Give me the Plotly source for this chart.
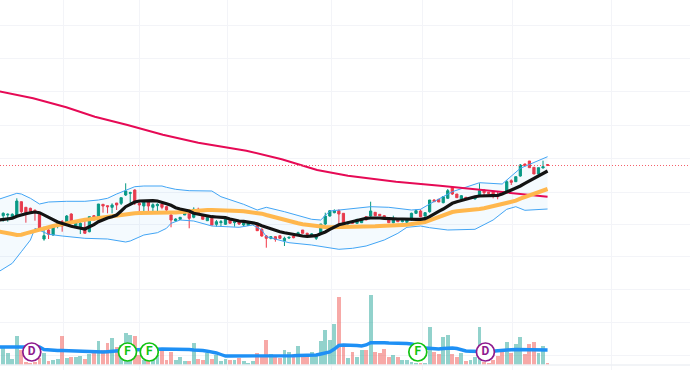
import plotly.graph_objects as go

opens = [154.3,155.0,152.7,153.3,168.3,162.7,161.7,159.7,156.7,131,140,135,145,148.3,145,156,144,142.7,142.7,138.3,154.3,150,165.7,164.3,162.7,167,166.7,175,176.7,180,166.7,164,168.3,162.7,164.3,166,163.3,155,149.3,150.7,155,156.7,
 152.7,160.7,154,149.3,151.7,145.7,147.3,145.7,150,147.3,148.3,145,144.7,146.7,145,140.7,134,131.7,133.3,134.3,129.3,132,134,135,140,136.7,135,131.7,136.7,146,154,157.3,159.3,156.7,146.7,148.3,146.7,147.3,
 153.3,154,157.7,155.7,154.3,150.7,147.3,150,148.3,147.7,151.7,156.7,159,154,158.3,170,170.7,167.3,171.7,182.7,176,171,172.7,171.7,171,175,180,177.7,178.3,174.7,178.3,179,189.3,188.3,194,206,209,202.7,196,202,205.5]
highs = [157.7,156.7,156.7,171.7,168.3,162.7,162.3,160.7,156.7,143.3,143.3,144,149.3,150,155,156.7,150,150,150,153.3,155,166,165.7,164.3,166.7,167,172.3,186.7,178.3,180.7,168.3,168.3,168.3,166.7,166.7,166.7,164,156.7,151.7,152.7,157.3,157.3,
 162.7,162.3,154,155,152,150,150,151.7,150.7,150,148.3,148.3,148.3,148.3,145.7,141.7,135,134,134,134.7,133.3,133.3,135,138.3,140,137.3,136.7,134,146,157.3,160,160.7,160.7,156.7,148.3,149,151,151.3,
 153.3,168.3,157.7,155.7,155,151,154.3,151.7,150,152,157.3,160.7,160.7,158,170,170.7,170.7,174,181,183.3,176,175,173,173,172.7,186.7,180.7,178,178.3,178.3,179,190,190.7,193.3,206,206.3,209,202.7,202.3,209.3,205.5]
lows = [148.3,148.3,151.7,153.3,156.7,147.3,158,149.3,140.7,129.3,131,134.3,141.7,138.3,145,146.7,143.3,136,136.7,137.7,150,150,157.3,156.7,156.7,160,165,174,166.7,165,158.3,158.3,156.7,159,158.3,160.7,158.3,142.7,148.3,150,155,141.7,
 151.7,156.7,150.7,149.3,145,143.3,143.3,145,146.7,143.3,145,144,144,145.7,139.3,133.3,122.3,130.7,128.3,131,124,131,131.7,134.3,136.7,135,134,130,135,145,153.3,156.7,146,147,145,146.3,146.7,147,
 150,153.3,154,154,152,147.3,146.7,148,147.7,147,149.3,156,152.7,153.3,157.3,168,168,166.7,171.3,175,172.3,170.7,171,171,170.7,175,175,176.7,171.7,170.7,176.7,178.3,185,188,193.3,204,202.3,196,196,201.7,204.2]
closes = [156.7,155.7,155.7,169,158.3,157.3,158.7,158,141.7,134.3,135.7,144,146,144,154,147.3,148.3,146.7,136.7,153.3,150,166,164,163.3,165,165,172.3,179,177.3,166.7,165,167.7,164,165.3,165.7,162.7,160,150,151,152.7,157.3,151.7,
 160.7,157.3,150.7,152.7,145,148.3,148.3,150.7,146.7,148.3,146,146.7,146.7,147.3,139.3,134,131.7,133.3,130.7,131.7,131.7,132.7,132.3,137.3,136.7,135.7,136,133.3,146,154,159.3,159.3,156,147.3,147.7,146.7,150.7,150.7,
 150,159,154.3,154.3,152.3,147.3,151,148.3,149.3,151,156.7,159.3,153.3,157.3,170,168.3,168,173.3,179.3,176,172.3,174.3,172,172.5,172,179.3,177.3,176.7,175,173.3,176.7,188.3,187.7,193.3,205,204.3,202.3,196,202.3,203.3,204.5]

volumes = [17,12,6,29,15,3,2,3,7,12,4,5,6,29,7,8,8,9,6,11,12,24,15,22,27,18,20,32,30,29,10,5,5,6,10,14,5,13,5,8,4,4,
 22,6,5,12,6,10,4,6,5,5,7,4,2,4,12,10,25,11,10,7,15,13,11,19,10,8,13,9,24,35,25,41,68,18,7,13,8,15,
 15,70,13,12,16,8,10,8,5,5,3,2,2,2,38,13,11,28,30,11,8,12,4,5,8,38,3,2,5,9,14,23,12,21,28,11,21,23,12,19,2]
# Moving averages carry one extra leading value, for the bar just off the left edge.
volume_ma = [18,18,18,18,18.2,18.2,18,18,18,18,15.5,15,14.5,14.5,14.5,14.3,14,14,13.8,13.5,13.3,13,12.8,13,13.3,13.5,14,14.5,15,15,15,15.3,15.5,15.5,15.5,15.8,16,16,16,16,16,15.5,15.5,
 15,15,14.5,13.8,13,12,10.5,9,9,9,9,8.8,8.5,8.5,8.5,9,9,9,9,9,9,9,9.3,9.5,9.5,9.7,10,10,11,12,13,16,19.5,20,20,20,19.5,19,
 20,22.3,22.5,22.5,22.3,22,22,22,21.7,21.5,21,20,19,17,16.5,16,16,16.5,17,17,16.5,15,14,13.8,13.5,13.5,13.5,13.5,14,14.5,15,15,15.3,15.5,15.5,15.5,15.5,15.3,15.2,15,15]
ma_black = [150,150.3,151,151.7,153.7,155.3,156.3,157.3,158,157.3,154.7,152.3,150.3,148,146.3,145,143.7,142.7,141.7,141,143.3,145.3,148.3,150.3,152,153.3,155,159,163.3,165.7,168,169,169.3,169.3,169.3,169,168,166.3,164.7,162.3,161,160,159,
 156.7,155.7,154.7,154,153.3,153,152.7,152.3,151,149.7,149,148.7,148,147.3,146.3,144.3,142.7,140.7,139.7,138.3,137.3,136.3,135.3,134.3,134,133.7,134,134.3,136.3,138,140.7,143.3,145.3,146.3,147.3,148.7,149.7,151,
 151.7,152,152.3,152,151.7,151.3,151.3,151,151,150.7,150.7,150.7,150.7,151.3,153.3,156.3,158.7,161,164,166.7,168.3,169.7,171.3,172.7,173.3,174,174,174,174.3,174.7,176,178,179.3,181.3,184,186.7,189,191.3,193.7,196.3,199]
ma_orange = [138.5,138,137.3,136,135,135.3,136.7,137.7,138.7,140,141.3,142.7,144,145,146,147,148,149.3,150,150.3,150.7,151.3,152,152.7,153.3,154,155,155.7,156,156.3,156.7,157,157.2,157.3,157.4,157.4,157.4,157.4,157.4,157.5,158,158.3,158.7,
 159.3,159.7,160,160,160,160,160,160,159.7,159.3,159,158.7,158.3,157.7,157.3,156.3,155,153.7,152.7,151.7,150.3,149,147.7,146.7,145.7,145,144.3,143.7,143.3,143,142.7,142.7,142.7,142.7,142.7,142.7,142.7,142.7,
 142.7,143.7,143.7,144,144,144.3,144.7,144.7,145,145.3,146,146.3,147,148,149.7,151.3,153.3,155.3,157,158,158.7,159,159.3,159.7,160,161,161.7,162.7,163.7,164.7,165.7,167,168,169.3,171.3,173,174.7,176,177.7,179.3,181]

ma_long_bar = [-1,6.6,13.9,20.2,27.4,35.2,43,53.6,61.4,69.2,76,86.6,96.3,106,120]
ma_long = [278.7,271.7,262.7,253.3,245,235.3,227.3,219.3,210.7,200,194.3,188.3,184.3,180,173.3]

bb_upper_bar = [-1,1,3,4,6,8,10,14,18,21,23,25,28,29,31,35,36,38,41,46,48,53,56,58,62,65,68,70,72,81,85,90,92,94,99,105,110,114,120]
bb_upper = [170.7,174,176.7,176,171.7,166,168,168.7,168.7,170,171.7,176,181.7,183.3,184,184,182.7,180.7,179.3,179,173.3,165.7,160,162.7,158.3,154.3,150.7,150,159,163.3,162.7,160,160.7,166,178.3,187.3,186,201.7,213.3]
bb_lower_bar = [-1,2,4,6,7,10,13,18,23,27,28,31,34,36,37,39,42,46,52,55,57,58,63,68,74,77,80,84,87,89,92,94,98,104,108,111,113,115,120]
bb_lower = [98.3,106.7,118.3,130,141.7,135.7,134,131.7,131,128,129,135,137.3,141.7,146.7,150,149,144,142.7,145,140,133.3,127.3,125,120.7,121.7,124,130,136.7,142.7,144,142.3,140,140.7,150,160.7,163.3,159.7,161]

event_bar = [6.3,27.4,32.2,91.4,106.3]
event_level = [13,13,13,13,13]
event_text = ["D","F","F","F","D"]
event_color = ["#8e1a8e","#12c312","#12c312","#12c312","#8e1a8e"]

x_grid = [13.2,30,49.35,72.3,92.4,112.2,134]
y_grid = [14.5,47.5,80.5,113.5,146,178,212,245,278.5,312,345]

bars = list(range(len(closes)))
line_bars = [-1] + bars
UP, DOWN = "#089981", "#f23645"
vol_colors = ["rgba(38,166,154,0.5)" if c >= o else "rgba(239,83,80,0.5)" for o, c in zip(opens, closes)]
GRID = "#f3f4f8"

fig = go.Figure()
fig.add_trace(go.Scatter(x=bb_upper_bar, y=bb_upper, mode="lines", line=dict(color="#42a5f5", width=1), hoverinfo="skip"))
fig.add_trace(go.Scatter(x=bb_lower_bar, y=bb_lower, mode="lines", line=dict(color="#42a5f5", width=1),
                         fill="tonexty", fillcolor="rgba(33,150,243,0.05)", hoverinfo="skip"))
fig.add_trace(go.Candlestick(x=bars, open=opens, high=highs, low=lows, close=closes,
                             increasing=dict(line=dict(color=UP, width=1), fillcolor=UP),
                             decreasing=dict(line=dict(color=DOWN, width=1), fillcolor=DOWN),
                             whiskerwidth=0))
fig.add_trace(go.Scatter(x=ma_long_bar, y=ma_long, mode="lines", line=dict(color="#e60a55", width=2)))
fig.add_trace(go.Scatter(x=line_bars, y=ma_orange, mode="lines", line=dict(color="#ffb74d", width=4)))
fig.add_trace(go.Scatter(x=line_bars, y=ma_black, mode="lines", line=dict(color="#131313", width=3.2)))
fig.add_trace(go.Bar(x=bars, y=volumes, marker=dict(color=vol_colors, line=dict(width=0)), width=0.85, yaxis="y2"))
fig.add_trace(go.Scatter(x=line_bars, y=volume_ma, mode="lines", line=dict(color="#1e90f5", width=3.4), yaxis="y2"))
fig.add_trace(go.Scatter(x=event_bar, y=event_level, mode="markers+text", text=event_text, yaxis="y2",
                         textposition="middle center",
                         textfont=dict(family="Roboto", size=12, color=event_color, weight="bold"),
                         marker=dict(size=18, color="white", line=dict(width=1.7, color=event_color))))

fig.update_layout(
    width=690, height=370, margin=dict(l=0, r=0, t=0, b=0),
    paper_bgcolor="white", plot_bgcolor="white", showlegend=False, dragmode=False,
    xaxis=dict(range=[-0.7056, 151.4], rangeslider=dict(visible=False), showticklabels=False, zeroline=False,
               tickmode="array", tickvals=x_grid, showgrid=True, gridcolor=GRID, gridwidth=1, ticks=""),
    yaxis=dict(range=[0, 370], showticklabels=False, zeroline=False, tickmode="array", tickvals=y_grid,
               showgrid=True, gridcolor=GRID, gridwidth=1, ticks=""),
    yaxis2=dict(range=[-5, 365], overlaying="y", showticklabels=False, showgrid=False, zeroline=False, ticks=""),
    bargap=0,
    shapes=[
        dict(type="line", xref="paper", x0=0, x1=1, yref="y", y0=closes[-1], y1=closes[-1],
             line=dict(color="#f5606a", width=1, dash="1px,2px")),
        dict(type="line", xref="paper", x0=0, x1=1, yref="y2", y0=0, y1=0,
             line=dict(color="#eef0f5", width=1.5)),
    ],
)
fig.write_html("out.html", config=dict(displayModeBar=False, staticPlot=True),
               post_script="document.body.style.margin='0';")
